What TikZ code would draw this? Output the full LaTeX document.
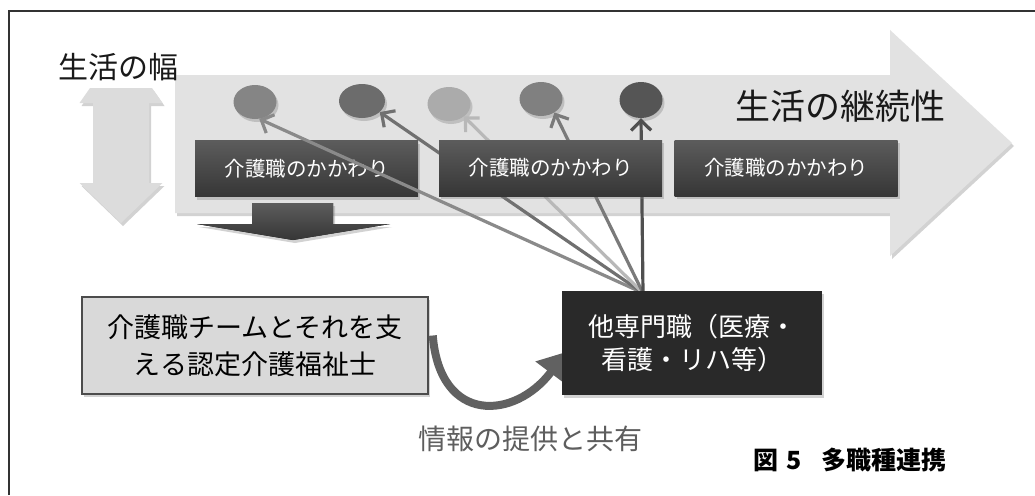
\documentclass[tikz,border=0pt]{standalone}
\usepackage{fontspec}
\setmainfont{Noto Sans CJK JP}
\usetikzlibrary{shapes.geometric,shadows,arrows.meta}
\definecolor{bigarrow}{HTML}{E2E2E2}
\definecolor{sidearrow}{HTML}{DCDCDC}
\definecolor{boxtop}{HTML}{5C5C5C}
\definecolor{boxbot}{HTML}{363636}
\definecolor{frameline}{HTML}{333333}
\definecolor{cA}{HTML}{858585}
\definecolor{cB}{HTML}{6C6C6C}
\definecolor{cC}{HTML}{ABABAB}
\definecolor{cD}{HTML}{808080}
\definecolor{cE}{HTML}{555555}
\definecolor{lA}{HTML}{8A8A8A}
\definecolor{lB}{HTML}{707070}
\definecolor{lC}{HTML}{B8B8B8}
\definecolor{lD}{HTML}{7A7A7A}
\definecolor{lE}{HTML}{505050}
\definecolor{infogray}{HTML}{5E5E5E}
\tikzset{
  shade/.style={drop shadow={shadow xshift=2pt,shadow yshift=-3pt,opacity=0.35}},
  kbox/.style={rectangle,top color=boxtop,bottom color=boxbot,text=white,
    minimum width=223pt,minimum height=56pt,inner sep=0pt,shade,
    font=\fontsize{20.5}{24}\selectfont},
  dot/.style={ellipse,minimum width=43pt,minimum height=34pt,inner sep=0pt,shade},
  conn/.style={line width=3.2pt,-{Straight Barb[length=10pt,width=20pt]}},
}
\begin{document}
\begin{tikzpicture}[x=1pt,y=-1pt]
\useasboundingbox (0,0) rectangle (1035,495);
\fill[white] (0,0) rectangle (1035,495);
% frame
\draw[frameline,line width=1.4pt] (9,495) -- (9,11) -- (1035,11);
% big arrow (continuity)
\fill[bigarrow,shade] (175,75) -- (890,75) -- (890,30) -- (1012,143) -- (890,256)
  -- (890,213) -- (175,213) -- cycle;
% side double arrow
\fill[sidearrow,shade] (90,88) -- (152,88) -- (162.5,103) -- (149,103) -- (149,183)
  -- (162.5,183) -- (121,223) -- (79.5,183) -- (93,183) -- (93,103) -- (79.5,103) -- cycle;
\node[font=\fontsize{30}{34}\selectfont,text=black!90] (haba) at (118,67) {生活の幅};
\node[font=\fontsize{35}{40}\selectfont,text=black!90] (keizoku) at (840,106) {生活の継続性};
% down arrow under first box
\fill[top color=boxtop,bottom color=boxbot,shade] (252,203) -- (333,203) -- (333,224)
  -- (390,224) -- (293,240) -- (197,224) -- (252,224) -- cycle;
% circles
\node[dot,fill=cA] (c1) at (255,102) {};
\node[dot,fill=cB,minimum width=46pt] (c2) at (362,101) {};
\node[dot,fill=cC] (c3) at (449,104) {};
\node[dot,fill=cD] (c4) at (541,99) {};
\node[dot,fill=cE,minimum height=36pt] (c5) at (641,100) {};
% first care box (below the connectors)
\node[kbox] (k1) at (306.5,168.5) {介護職のかかわり};
\node[rectangle,fill=black!15,draw=black!70,line width=1.5pt,shade,
  minimum width=346pt,minimum height=97pt,align=center,inner sep=0pt,
  font=\fontsize{27}{37}\selectfont] (team) at (255,345.5) {介護職チームとそれを支\\える認定介護福祉士};
\coordinate (hub) at (643,293);
\draw[conn,lA] (hub) -- (c1.-76);
\draw[conn,lB] (hub) -- (c2.-32);
\draw[conn,lC] (hub) -- (c3.-40);
\draw[conn,lD] (hub) -- (c4.-45);
\draw[conn,lE] (hub) -- (c5.-90);
% other boxes above the connectors
\node[kbox] (k2) at (550.5,168) {介護職のかかわり};
\node[kbox] (k3) at (786,168) {介護職のかかわり};
% curved arrow: information sharing
\draw[line width=8pt,color=black!62,-{Triangle[length=26pt,width=36pt]}]
  (team.east) ++(4,-10) coordinate (cs) .. controls (440,425) and (515,420) .. (566,352) coordinate (ce);
\node[rectangle,fill=black!84,text=white,shade,minimum width=260pt,minimum height=104pt,
  align=center,inner sep=0pt,font=\fontsize{26}{33}\selectfont] (other) at (692,343)
  {他専門職（医療・\\看護・リハ等）};
\node[font=\fontsize{28}{32}\selectfont,text=infogray] (info) at (530,439) {情報の提供と共有};
\node[anchor=west,font=\fontsize{25}{30}\selectfont\bfseries] (cap) at (750,460)
  {図\hspace{8pt}5\hspace{20pt}多職種連携};
\end{tikzpicture}
\end{document}
